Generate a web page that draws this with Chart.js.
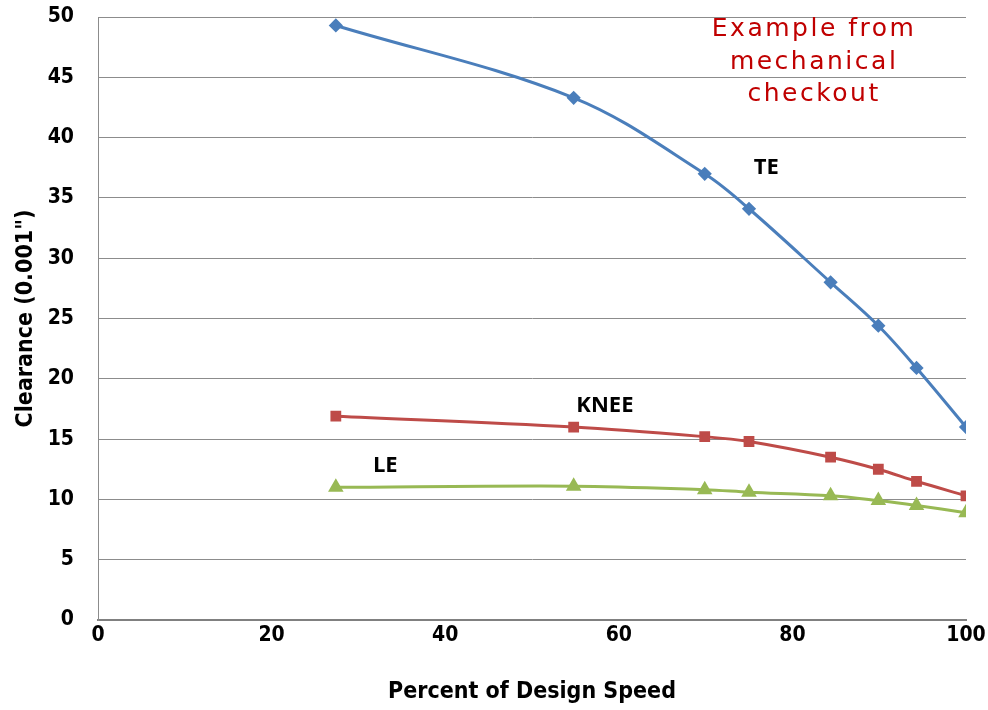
<!DOCTYPE html>
<html><head><meta charset="utf-8">
<script src="https://cdn.jsdelivr.net/npm/chart.js@4"></script>
<style>html,body{margin:0;padding:0;background:#fff}#wrap{width:988px;height:710px}</style>
</head><body><div id="wrap"><canvas id="c" width="988" height="710"></canvas></div>
<script>
const speed = [27.4, 54.8, 69.9, 75.0, 84.4, 89.9, 94.3, 100];
const teValues = [49.3, 43.3, 37.0, 34.1, 28.0, 24.4, 20.9, 16.0];
const kneeValues = [16.9, 16.0, 15.2, 14.8, 13.5, 12.5, 11.5, 10.3];
const leValues = [11.0, 11.1, 10.8, 10.6, 10.3, 9.9, 9.5, 8.9];
const xTicks = [0, 20, 40, 60, 80, 100];
const yTicks = [0, 5, 10, 15, 20, 25, 30, 35, 40, 45, 50];
const seriesLabels = [
  {text: 'TE', x: 77.0, y: 37.5},
  {text: 'KNEE', x: 58.4, y: 17.8},
  {text: 'LE', x: 33.1, y: 12.8}
];
const noteLines = ['Example from', 'mechanical', 'checkout'];
const noteX = 82.5;
const noteY = [48.95, 46.25, 43.55];

const FONT = "'Liberation Sans Narrow','DejaVu Sans Condensed','Open Sans',sans-serif";
const pts = v => speed.map((x, i) => ({x, y: v[i]}));

const labelPlugin = {
  id: 'labels',
  afterDatasetsDraw(chart) {
    const {ctx, scales: {x, y}} = chart;
    ctx.save();
    ctx.textAlign = 'center';
    ctx.textBaseline = 'middle';
    ctx.fillStyle = '#000';
    ctx.font = "bold 22px 'Open Sans', sans-serif";
    seriesLabels.forEach(l => ctx.fillText(l.text, x.getPixelForValue(l.x), y.getPixelForValue(l.y)));
    ctx.fillStyle = '#c00000';
    ctx.font = "25px 'DejaVu Sans', sans-serif";
    try { ctx.letterSpacing = '2.5px'; } catch (e) {}
    noteLines.forEach((t, i) => ctx.fillText(t, x.getPixelForValue(noteX), y.getPixelForValue(noteY[i])));
    ctx.restore();
  }
};

new Chart(document.getElementById('c'), {
  type: 'scatter',
  data: {
    datasets: [
      {label: 'TE', data: pts(teValues), showLine: true, borderColor: '#4a7ebb', backgroundColor: '#4a7ebb',
       borderWidth: 3, tension: 0.35, pointStyle: 'rectRot', pointRadius: 5, pointHoverRadius: 5},
      {label: 'KNEE', data: pts(kneeValues), showLine: true, borderColor: '#be4b48', backgroundColor: '#be4b48',
       borderWidth: 3, tension: 0.35, pointStyle: 'rect', pointRadius: 5.5, pointHoverRadius: 5.5},
      {label: 'LE', data: pts(leValues), showLine: true, borderColor: '#98b954', backgroundColor: '#98b954',
       borderWidth: 3, tension: 0.35, pointStyle: 'triangle', pointRadius: 6, pointHoverRadius: 6}
    ]
  },
  options: {
    responsive: false,
    animation: false,
    layout: {padding: {top: 17, right: 22, left: 8, bottom: 0}},
    plugins: {legend: {display: false}, tooltip: {enabled: false}},
    scales: {
      x: {
        type: 'linear', min: 0, max: 100,
        afterBuildTicks: s => { s.ticks = xTicks.map(v => ({value: v})); },
        afterFit: s => { s.height = 90; },
        grid: {color: 'rgba(0,0,0,0)', drawTicks: true, tickLength: 3, tickColor: 'rgba(0,0,0,0)'},
        border: {display: true, color: '#808080', width: 2},
        ticks: {color: '#000', padding: 0, font: {family: FONT, size: 21, weight: 'bold'}},
        title: {display: true, text: 'Percent of Design Speed', color: '#000',
                font: {family: FONT, size: 23, weight: 'bold'}, padding: {top: 14}}
      },
      y: {
        type: 'linear', min: 0, max: 50,
        afterBuildTicks: s => { s.ticks = yTicks.map(v => ({value: v})); },
        afterFit: s => { s.width = 90; },
        grid: {color: '#8c8c8c', lineWidth: 1, drawTicks: true, tickLength: 24, tickColor: 'rgba(0,0,0,0)'},
        border: {display: true, color: '#8c8c8c', width: 1},
        ticks: {color: '#000', padding: 0, font: {family: FONT, size: 21, weight: 'bold'}},
        title: {display: true, text: 'Clearance (0.001")', color: '#000',
                font: {family: FONT, size: 23, weight: 'bold'}, padding: {bottom: 8}}
      }
    }
  },
  plugins: [labelPlugin]
});
</script></body></html>
